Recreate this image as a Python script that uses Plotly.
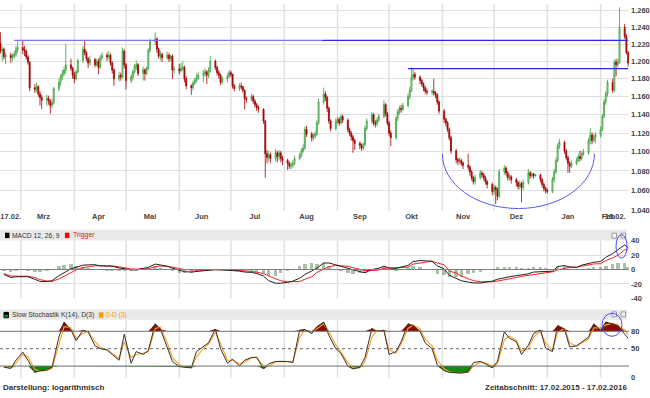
import numpy as np
import pandas as pd
import plotly.graph_objects as go

# ------------------------------------------------------------------ data
trade_dates = pd.bdate_range("2015-02-17", "2016-02-17")   # daily candles (Mon-Fri)

open_ = [
    1.221, 1.212, 1.214, 1.205,
    1.207, 1.204, 1.206, 1.208, 1.214,
    1.216, 1.213, 1.212, 1.205, 1.199,
    1.170, 1.168, 1.171, 1.163, 1.159,
    1.156, 1.158, 1.155, 1.150, 1.153,
    1.169, 1.176, 1.182, 1.186, 1.190,
    1.196, 1.192, 1.184, 1.180, 1.188,
    1.201, 1.214, 1.210, 1.203, 1.198,
    1.202, 1.196, 1.200, 1.193, 1.204,
    1.207, 1.205, 1.207, 1.198, 1.190,
    1.180, 1.184, 1.182, 1.212, 1.196,
    1.178, 1.182, 1.188, 1.194, 1.196,
    1.186, 1.190, 1.186, 1.192, 1.213,
    1.223, 1.226, 1.214, 1.206, 1.208,
    1.204, 1.207, 1.203, 1.206, 1.190,
    1.191, 1.189, 1.192, 1.193, 1.180,
    1.172, 1.170, 1.175, 1.178, 1.181,
    1.184, 1.186, 1.188, 1.184, 1.189,
    1.200, 1.193, 1.187, 1.184, 1.176,
    1.180, 1.183, 1.187, 1.185, 1.172,
    1.169, 1.172, 1.171, 1.167, 1.158,
    1.157, 1.160, 1.155, 1.151, 1.148,
    1.146, 1.133, 1.098, 1.094, 1.097,
    1.093, 1.099, 1.095, 1.099, 1.093,
    1.091, 1.088, 1.085, 1.086, 1.088,
    1.093, 1.096, 1.101, 1.104, 1.124,
    1.119, 1.115, 1.117, 1.119, 1.131,
    1.154, 1.163, 1.159, 1.147, 1.133,
    1.125, 1.133, 1.135, 1.131, 1.138,
    1.134, 1.124, 1.120, 1.116, 1.112,
    1.109, 1.107, 1.104, 1.108, 1.125,
    1.133, 1.140, 1.131, 1.130, 1.134,
    1.138, 1.151, 1.141, 1.131, 1.120,
    1.115, 1.136, 1.143, 1.147, 1.146,
    1.150, 1.160, 1.167, 1.181, 1.185,
    1.182, 1.178, 1.174, 1.170, 1.166,
    1.165, 1.166, 1.164, 1.162, 1.154,
    1.144, 1.135, 1.131, 1.124, 1.115,
    1.101, 1.092, 1.090, 1.091, 1.088,
    1.086, 1.084, 1.079, 1.073, 1.069,
    1.073, 1.078, 1.076, 1.073, 1.069,
    1.066, 1.059, 1.063, 1.061, 1.054,
    1.079, 1.083, 1.078, 1.073, 1.074,
    1.071, 1.068, 1.064, 1.067, 1.063,
    1.068, 1.078, 1.075, 1.077, 1.075,
    1.076, 1.071, 1.066, 1.062, 1.060,
    1.059, 1.071, 1.079, 1.091, 1.106,
    1.110, 1.101, 1.094, 1.088, 1.085,
    1.088, 1.091, 1.095, 1.093, 1.098,
    1.099, 1.112, 1.118, 1.112, 1.116,
    1.118, 1.124, 1.138, 1.154, 1.163,
    1.176, 1.167, 1.199, 1.196, 1.199,
    1.240, 1.229, 1.210,
]
high = [
    1.234, 1.218, 1.216, 1.210,
    1.210, 1.209, 1.212, 1.218, 1.224,
    1.225, 1.218, 1.214, 1.207, 1.200,
    1.174, 1.176, 1.173, 1.166, 1.162,
    1.162, 1.161, 1.157, 1.158, 1.171,
    1.180, 1.185, 1.190, 1.194, 1.220,
    1.203, 1.194, 1.188, 1.190, 1.203,
    1.218, 1.225, 1.212, 1.205, 1.206,
    1.204, 1.203, 1.203, 1.207, 1.210,
    1.210, 1.212, 1.209, 1.200, 1.192,
    1.188, 1.187, 1.216, 1.214, 1.198,
    1.185, 1.190, 1.197, 1.201, 1.198,
    1.194, 1.192, 1.194, 1.215, 1.226,
    1.234, 1.228, 1.216, 1.212, 1.210,
    1.211, 1.210, 1.208, 1.208, 1.194,
    1.197, 1.198, 1.200, 1.195, 1.183,
    1.174, 1.178, 1.181, 1.186, 1.188,
    1.190, 1.192, 1.190, 1.193, 1.206,
    1.202, 1.195, 1.190, 1.186, 1.183,
    1.186, 1.190, 1.189, 1.186, 1.174,
    1.175, 1.176, 1.172, 1.168, 1.160,
    1.163, 1.162, 1.157, 1.153, 1.150,
    1.147, 1.134, 1.102, 1.101, 1.099,
    1.103, 1.101, 1.102, 1.101, 1.096,
    1.093, 1.090, 1.089, 1.091, 1.096,
    1.099, 1.104, 1.108, 1.127, 1.128,
    1.121, 1.120, 1.122, 1.134, 1.158,
    1.170, 1.166, 1.161, 1.149, 1.135,
    1.136, 1.138, 1.137, 1.141, 1.140,
    1.136, 1.126, 1.122, 1.118, 1.114,
    1.111, 1.109, 1.110, 1.128, 1.136,
    1.143, 1.142, 1.134, 1.137, 1.141,
    1.156, 1.153, 1.143, 1.133, 1.123,
    1.138, 1.146, 1.150, 1.151, 1.153,
    1.163, 1.171, 1.193, 1.192, 1.188,
    1.184, 1.180, 1.176, 1.172, 1.169,
    1.168, 1.180, 1.166, 1.164, 1.156,
    1.146, 1.137, 1.133, 1.126, 1.117,
    1.103, 1.094, 1.094, 1.093, 1.090,
    1.098, 1.086, 1.081, 1.075, 1.076,
    1.081, 1.080, 1.078, 1.075, 1.071,
    1.068, 1.066, 1.065, 1.063, 1.082,
    1.086, 1.085, 1.080, 1.077, 1.076,
    1.073, 1.070, 1.070, 1.069, 1.071,
    1.082, 1.080, 1.079, 1.078, 1.077,
    1.077, 1.073, 1.068, 1.064, 1.062,
    1.074, 1.082, 1.094, 1.109, 1.114,
    1.112, 1.103, 1.096, 1.090, 1.091,
    1.094, 1.098, 1.101, 1.101, 1.103,
    1.115, 1.125, 1.121, 1.119, 1.121,
    1.127, 1.141, 1.157, 1.166, 1.179,
    1.180, 1.202, 1.203, 1.203, 1.264,
    1.244, 1.232, 1.212,
]
low = [
    1.209, 1.200, 1.202, 1.197,
    1.198, 1.200, 1.203, 1.205, 1.210,
    1.208, 1.206, 1.202, 1.196, 1.166,
    1.164, 1.165, 1.160, 1.150, 1.146,
    1.150, 1.151, 1.141, 1.147, 1.151,
    1.166, 1.172, 1.179, 1.183, 1.186,
    1.189, 1.180, 1.175, 1.178, 1.186,
    1.198, 1.207, 1.200, 1.192, 1.195,
    1.193, 1.194, 1.185, 1.191, 1.201,
    1.200, 1.202, 1.195, 1.186, 1.172,
    1.177, 1.178, 1.180, 1.192, 1.168,
    1.175, 1.178, 1.186, 1.190, 1.183,
    1.178, 1.178, 1.184, 1.190, 1.210,
    1.219, 1.210, 1.203, 1.201, 1.199,
    1.202, 1.199, 1.200, 1.180, 1.186,
    1.185, 1.187, 1.189, 1.176, 1.168,
    1.162, 1.167, 1.173, 1.176, 1.179,
    1.176, 1.182, 1.174, 1.181, 1.187,
    1.190, 1.184, 1.180, 1.173, 1.174,
    1.176, 1.181, 1.182, 1.169, 1.166,
    1.166, 1.168, 1.164, 1.146, 1.153,
    1.155, 1.152, 1.148, 1.144, 1.142,
    1.130, 1.073, 1.088, 1.090, 1.088,
    1.090, 1.089, 1.091, 1.089, 1.086,
    1.081, 1.082, 1.082, 1.083, 1.086,
    1.091, 1.094, 1.099, 1.102, 1.116,
    1.111, 1.112, 1.114, 1.117, 1.129,
    1.151, 1.155, 1.143, 1.130, 1.122,
    1.123, 1.130, 1.128, 1.129, 1.131,
    1.121, 1.117, 1.112, 1.099, 1.102,
    1.103, 1.101, 1.102, 1.106, 1.123,
    1.130, 1.128, 1.126, 1.127, 1.132,
    1.136, 1.138, 1.128, 1.117, 1.106,
    1.113, 1.133, 1.140, 1.142, 1.144,
    1.148, 1.157, 1.165, 1.178, 1.179,
    1.174, 1.171, 1.166, 1.163, 1.162,
    1.162, 1.161, 1.158, 1.151, 1.141,
    1.131, 1.127, 1.121, 1.112, 1.098,
    1.088, 1.086, 1.087, 1.085, 1.082,
    1.081, 1.075, 1.070, 1.066, 1.066,
    1.071, 1.073, 1.070, 1.066, 1.062,
    1.055, 1.056, 1.046, 1.050, 1.052,
    1.076, 1.075, 1.070, 1.070, 1.067,
    1.064, 1.061, 1.061, 1.048, 1.060,
    1.066, 1.072, 1.073, 1.072, 1.074,
    1.068, 1.063, 1.059, 1.057, 1.057,
    1.057, 1.068, 1.077, 1.089, 1.103,
    1.098, 1.091, 1.078, 1.078, 1.083,
    1.086, 1.089, 1.090, 1.091, 1.096,
    1.097, 1.108, 1.108, 1.110, 1.109,
    1.115, 1.122, 1.136, 1.151, 1.160,
    1.164, 1.165, 1.183, 1.193, 1.197,
    1.226, 1.208, 1.194,
]
close = [
    1.212, 1.214, 1.205, 1.207,
    1.204, 1.206, 1.208, 1.214, 1.216,
    1.213, 1.212, 1.205, 1.199, 1.170,
    1.168, 1.171, 1.163, 1.159, 1.156,
    1.158, 1.155, 1.150, 1.153, 1.169,
    1.176, 1.182, 1.186, 1.190, 1.196,
    1.192, 1.184, 1.180, 1.188, 1.201,
    1.214, 1.210, 1.203, 1.198, 1.202,
    1.196, 1.200, 1.193, 1.204, 1.207,
    1.205, 1.207, 1.198, 1.190, 1.180,
    1.184, 1.182, 1.212, 1.196, 1.178,
    1.182, 1.188, 1.194, 1.196, 1.186,
    1.190, 1.186, 1.192, 1.213, 1.223,
    1.226, 1.214, 1.206, 1.208, 1.204,
    1.207, 1.203, 1.206, 1.190, 1.191,
    1.189, 1.192, 1.193, 1.180, 1.172,
    1.170, 1.175, 1.178, 1.181, 1.184,
    1.186, 1.188, 1.184, 1.189, 1.200,
    1.193, 1.187, 1.184, 1.176, 1.180,
    1.183, 1.187, 1.185, 1.172, 1.169,
    1.172, 1.171, 1.167, 1.158, 1.157,
    1.160, 1.155, 1.151, 1.148, 1.146,
    1.133, 1.098, 1.094, 1.097, 1.093,
    1.099, 1.095, 1.099, 1.093, 1.091,
    1.088, 1.085, 1.086, 1.088, 1.093,
    1.096, 1.101, 1.104, 1.124, 1.119,
    1.115, 1.117, 1.119, 1.131, 1.154,
    1.163, 1.159, 1.147, 1.133, 1.125,
    1.133, 1.135, 1.131, 1.138, 1.134,
    1.124, 1.120, 1.116, 1.112, 1.109,
    1.107, 1.104, 1.108, 1.125, 1.133,
    1.140, 1.131, 1.130, 1.134, 1.138,
    1.151, 1.141, 1.131, 1.120, 1.115,
    1.136, 1.143, 1.147, 1.146, 1.150,
    1.160, 1.167, 1.181, 1.185, 1.182,
    1.178, 1.174, 1.170, 1.166, 1.165,
    1.166, 1.164, 1.162, 1.154, 1.144,
    1.135, 1.131, 1.124, 1.115, 1.101,
    1.092, 1.090, 1.091, 1.088, 1.086,
    1.084, 1.079, 1.073, 1.069, 1.073,
    1.078, 1.076, 1.073, 1.069, 1.066,
    1.059, 1.063, 1.061, 1.054, 1.079,
    1.083, 1.078, 1.073, 1.074, 1.071,
    1.068, 1.064, 1.067, 1.063, 1.068,
    1.078, 1.075, 1.077, 1.075, 1.076,
    1.071, 1.066, 1.062, 1.060, 1.059,
    1.071, 1.079, 1.091, 1.106, 1.110,
    1.101, 1.094, 1.088, 1.085, 1.088,
    1.091, 1.095, 1.093, 1.098, 1.099,
    1.112, 1.118, 1.112, 1.116, 1.118,
    1.124, 1.138, 1.154, 1.163, 1.176,
    1.167, 1.199, 1.196, 1.199, 1.240,
    1.229, 1.210, 1.198,
]

# indicator samples (Mondays and Thursdays)
ind_dates = sorted(
    list(pd.date_range("2015-02-19", "2016-02-15", freq="W-THU"))
    + list(pd.date_range("2015-02-23", "2016-02-15", freq="W-MON"))
) + [pd.Timestamp("2016-02-17")]

macd = [-7,
    -11, -10, -9.5, -10, -13.5, -16.5, -16.7, -15.4, -8.5, -4.5,
    1, 3, 6, 6.4, 6.6, 5, 4.5, 4.5, 2.2, 1,
    -0.4, -0.4, 1, 3, 7.5, 6.5, 4.5, 1.8, -1, -3,
    -3.5, -2.8, -1.5, -0.5, 0, -0.4, -0.5, -1.5, -2.2, -3.5,
    -4, -5.5, -9, -15.5, -18.9, -18.9, -17.8, -16, -12, -7,
    -2, 2, 9, 9, 6.5, 4.5, 2, -1, -3, -4.5,
    0, 1, 4.5, 2, 1.4, 3.5, 5.5, 11, 12.3, 12,
    11.4, 5, 1, -8, -12, -15.5, -17.3, -18.5, -18.6, -17.5,
    -16, -13.5, -11, -10, -8.5, -7.7, -6, -3.5, -3.2, -2.5,
    -2.3, 4, 5.5, 3.5, 3, 6, 8.2, 10, 11, 16.8,
    22, 27, 34, 30]
trigger = [-5.5,
    -9, -9.2, -9.2, -9.3, -11, -14, -15.8, -16.5, -13, -9,
    -4.5, -0.6, 2.8, 4, 5, 5.3, 5.2, 5, 3.6, 2.2,
    0.8, 0.4, 0.5, 0.9, 4, 4.8, 4.5, 3.1, 1.5, 0,
    -0.5, -1, -1.2, -0.6, -0.4, -0.4, -0.4, -1, -1.3, -2.2,
    -2.6, -3.8, -5.5, -9, -13, -15.5, -17, -17.2, -16.5, -13.5,
    -10, -4, 1, 4, 5.5, 5.2, 4.5, 2.5, 0, -1.4,
    -1.4, -1, 1.5, 2.3, 2.3, 2.5, 3.2, 7.5, 9, 10.5,
    11.4, 9, 6.5, -2, -5, -9, -13, -15.5, -16.8, -17.2,
    -17, -16, -14.5, -13.5, -11, -9.5, -8, -6.5, -5.9, -4.5,
    -3.2, -0.5, 1.8, 3, 3.2, 4.5, 5.9, 7.7, 8, 12.3,
    16, 19.5, 27, 28]
macd_hist = [-2,
    -2.5, -1, -0.5, -1, -3, -3, -1.5, 1.5, 6, 7,
    8, 5.5, 4.5, 3, 2, -0.5, -1, -0.8, -2, -1.8,
    -1.6, -1, 0.7, 3, 5, 2.5, 0, -2, -3.5, -4,
    -4, -2.5, -0.5, 0.2, 0.5, 0, -0.2, -0.7, -1.2, -1.8,
    -2, -2.5, -4.5, -8, -8, -4.5, -1, 1.5, 6, 8,
    10, 8.5, 10, 6, 1.5, -1, -3.5, -5, -4.5, -4,
    2, 2.8, 4, -0.5, -1.2, 1.2, 3, 5, 4.5, 2,
    0, -5, -7.5, -9, -9.5, -9, -6, -4, -2.5, -0.5,
    1.5, 3.5, 4.5, 4.5, 3.5, 2.5, 2.8, 4, 3.5, 2.5,
    1.2, 6, 5, 0.8, -0.3, 2, 3.2, 4, 4, 6,
    8.5, 10, 10, 4]
stoch_k = [18,
    16, 30, 44, 30, 9, 12, 13, 18, 70, 96,
    82, 64, 82, 79, 55, 50, 48, 40, 30, 75,
    25, 45, 40, 47, 93, 84, 52, 28, 19, 18,
    17, 45, 53, 60, 84, 50, 25, 32, 20, 30,
    35, 35, 15, 24, 28, 28, 28, 26, 82, 83,
    76, 88, 96, 73, 50, 42, 20, 15, 18, 35,
    85, 80, 82, 40, 45, 62, 93, 90, 80, 60,
    50, 22, 12, 9, 8, 8, 10, 26, 28, 24,
    17, 28, 79, 68, 62, 40, 56, 76, 82, 51,
    45, 90, 84, 53, 55, 62, 70, 93, 82, 96,
    93, 90, 75, 68]
stoch_d = [20,
    17, 25, 40, 36, 14, 11, 13, 16, 55, 88,
    86, 68, 76, 80, 62, 52, 48, 42, 33, 62,
    35, 40, 42, 45, 85, 87, 60, 35, 22, 18,
    17, 36, 50, 58, 78, 58, 30, 30, 24, 27,
    34, 35, 20, 20, 27, 28, 28, 27, 70, 82,
    78, 85, 93, 80, 56, 44, 26, 17, 17, 28,
    70, 82, 80, 48, 42, 58, 85, 91, 84, 66,
    55, 30, 15, 10, 8, 8, 9, 20, 27, 25,
    20, 24, 65, 72, 64, 46, 50, 70, 80, 60,
    47, 78, 85, 60, 54, 60, 67, 86, 86, 91,
    94, 91, 82, 74]

price_ticks = [1.040, 1.060, 1.080, 1.100, 1.120, 1.140, 1.160, 1.180, 1.200, 1.220, 1.240, 1.260]
x_tick_dates = ["2015-02-23", "2015-03-14", "2015-04-15", "2015-05-15", "2015-06-14",
                "2015-07-15", "2015-08-14", "2015-09-14", "2015-10-14", "2015-11-13",
                "2015-12-14", "2016-01-13", "2016-02-05 12:00", "2016-02-09 12:00"]
x_tick_text = ["17.02.", "Mrz", "Apr", "Mai", "Jun", "Jul", "Aug", "Sep", "Okt",
               "Nov", "Dez", "Jan", "Feb", "16.02."]
month_starts = pd.date_range("2015-03-01", "2016-02-01", freq="MS")

# drawn annotations (resistance lines and cup pattern)
resistance_hi = 1.2245
resistance_lo = 1.1915
res_hi_start, res_hi_mid, res_end = "2015-02-25", "2015-08-23", "2016-02-17"
res_lo_start = "2015-10-12"

assert len(open_) == len(high) == len(low) == len(close) == len(trade_dates)
assert len(macd) == len(trigger) == len(macd_hist) == len(stoch_k) == len(stoch_d) == len(ind_dates)

# ------------------------------------------------------------------ layout geometry
W, H = 650, 398
PW = 630  # plot width in px


def py(p):  # pixel row -> paper y
    return 1 - p / H


def px(p):  # pixel column -> paper x
    return p / PW


FONT = "Liberation Sans, Arial, sans-serif"
GRID = "#e0e0e0"

fig = go.Figure()

# ---- price candles
fig.add_trace(go.Candlestick(
    x=trade_dates, open=open_, high=high, low=low, close=close,
    increasing=dict(line=dict(color="#3a9e3a", width=0.8), fillcolor="#bfe3bf"),
    decreasing=dict(line=dict(color="#a30000", width=0.8), fillcolor="#a30000"),
    whiskerwidth=0, hoverinfo="skip", showlegend=False, xaxis="x", yaxis="y"))

# ---- MACD panel
fig.add_trace(go.Bar(x=ind_dates, y=macd_hist, width=2.0 * 86400000,
                     marker=dict(color="rgba(115,148,115,0.6)", line=dict(width=0)),
                     hoverinfo="skip", showlegend=False, xaxis="x2", yaxis="y2"))
fig.add_trace(go.Scatter(x=ind_dates, y=trigger, mode="lines",
                         line=dict(color="#ff2020", width=1), hoverinfo="skip",
                         showlegend=False, xaxis="x2", yaxis="y2"))
fig.add_trace(go.Scatter(x=ind_dates, y=macd, mode="lines",
                         line=dict(color="#222222", width=1), hoverinfo="skip",
                         showlegend=False, xaxis="x2", yaxis="y2"))

# ---- Stochastic panel (fills above 80 / below 20)
k_arr = np.array(stoch_k, dtype=float)
fig.add_trace(go.Scatter(x=ind_dates, y=[80] * len(ind_dates), mode="lines",
                         line=dict(width=0), hoverinfo="skip", showlegend=False,
                         xaxis="x3", yaxis="y3"))
fig.add_trace(go.Scatter(x=ind_dates, y=np.maximum(k_arr, 80), mode="lines",
                         line=dict(width=0), fill="tonexty", fillcolor="#8b0a00",
                         hoverinfo="skip", showlegend=False, xaxis="x3", yaxis="y3"))
fig.add_trace(go.Scatter(x=ind_dates, y=[20] * len(ind_dates), mode="lines",
                         line=dict(width=0), hoverinfo="skip", showlegend=False,
                         xaxis="x3", yaxis="y3"))
fig.add_trace(go.Scatter(x=ind_dates, y=np.minimum(k_arr, 20), mode="lines",
                         line=dict(width=0), fill="tonexty", fillcolor="#118a11",
                         hoverinfo="skip", showlegend=False, xaxis="x3", yaxis="y3"))
fig.add_trace(go.Scatter(x=ind_dates, y=stoch_d, mode="lines",
                         line=dict(color="#ffa42a", width=1.2), hoverinfo="skip",
                         showlegend=False, xaxis="x3", yaxis="y3"))
fig.add_trace(go.Scatter(x=ind_dates, y=stoch_k, mode="lines",
                         line=dict(color="#333333", width=1), hoverinfo="skip",
                         showlegend=False, xaxis="x3", yaxis="y3"))

tickfont = dict(family=FONT, size=7.5, color="#444444", weight="bold")
x_range = ["2015-02-16 18:00", "2016-02-17 12:00"]

fig.update_layout(
    width=W, height=H, autosize=False,
    margin=dict(l=0, r=W - PW, t=0, b=0, pad=0),
    paper_bgcolor="white", plot_bgcolor="white",
    font=dict(family=FONT, size=8, color="#333"),
    showlegend=False, boxgap=0.15, bargap=0, dragmode=False,
    xaxis=dict(domain=[0, 1], anchor="y", range=x_range, rangeslider=dict(visible=False),
               tickmode="array", tickvals=x_tick_dates, ticktext=x_tick_text, tickangle=0,
               showgrid=False, zeroline=False, showline=False, ticks="", tickfont=tickfont),
    xaxis2=dict(domain=[0, 1], anchor="y2", matches="x", showticklabels=False,
                showgrid=False, zeroline=False, ticks="", rangeslider=dict(visible=False)),
    xaxis3=dict(domain=[0, 1], anchor="y3", matches="x", showticklabels=False,
                showgrid=False, zeroline=False, ticks="", rangeslider=dict(visible=False)),
    yaxis=dict(domain=[py(211.5), 1], anchor="x", type="log", range=[0.016829, 0.103104],
               side="right", tickmode="array", tickvals=price_ticks,
               ticktext=[f"{v:.3f}" for v in price_ticks], showgrid=True, gridcolor=GRID,
               gridwidth=1, zeroline=False, ticks="", tickfont=tickfont,
               ticklabelstandoff=1),
    yaxis2=dict(domain=[py(301.3), py(242)], anchor="x2", range=[-40, 40], side="right",
                tickmode="array", tickvals=[-40, -20, 0, 20, 40],
                ticktext=["-40", "-20", "0", "20", "40"], showgrid=True, gridcolor=GRID,
                zeroline=True, zerolinecolor="#808080", zerolinewidth=1, ticks="",
                tickfont=tickfont, ticklabelstandoff=1),
    yaxis3=dict(domain=[py(382.3), py(323)], anchor="x3", range=[0, 100], side="right",
                tickmode="array", tickvals=[0, 50, 80], ticktext=["0", "50", "80"],
                showgrid=False, zeroline=False, ticks="", tickfont=tickfont,
                ticklabelstandoff=1),
)

shapes = []
# vertical month grid lines in all three panels
for yref in ["y domain", "y2 domain", "y3 domain"]:
    xr = {"y domain": "x", "y2 domain": "x2", "y3 domain": "x3"}[yref]
    for d in month_starts:
        shapes.append(dict(type="line", xref=xr, yref=yref, x0=d, x1=d, y0=0, y1=1,
                           line=dict(color=GRID, width=1.5), layer="below"))
# stochastic reference lines
shapes.append(dict(type="line", xref="paper", yref="y3", x0=0, x1=1, y0=80, y1=80,
                   line=dict(color="#707070", width=1)))
shapes.append(dict(type="line", xref="paper", yref="y3", x0=0, x1=1, y0=20, y1=20,
                   line=dict(color="#707070", width=1)))
shapes.append(dict(type="line", xref="paper", yref="y3", x0=0, x1=1, y0=50, y1=50,
                   line=dict(color="#666666", width=1, dash="dot")))
shapes.append(dict(type="line", xref="paper", yref="y2", x0=0, x1=1, y0=0, y1=0,
                   line=dict(color="#808080", width=1)))
# panel header strips
for top, bot in [(231, 242), (312.5, 323)]:
    shapes.append(dict(type="rect", xref="paper", yref="paper", x0=0, x1=px(628),
                       y0=py(bot), y1=py(top), fillcolor="#e9e9e9", line=dict(width=0),
                       layer="below"))
# header icons
for top in [234.5, 315]:
    for left in [613, 622]:
        shapes.append(dict(type="rect", xref="paper", yref="paper", x0=px(left),
                           x1=px(left + 4.5), y0=py(top + 5), y1=py(top),
                           fillcolor="#f6f6f6", line=dict(color="#9a9a9a", width=1)))
# legend squares
shapes.append(dict(type="rect", xref="paper", yref="paper", x0=px(5), x1=px(9.5),
                   y0=py(239.5), y1=py(234), fillcolor="#000000", line=dict(width=0)))
shapes.append(dict(type="rect", xref="paper", yref="paper", x0=px(65), x1=px(69.5),
                   y0=py(239.5), y1=py(234), fillcolor="#ff0000", line=dict(width=0)))
shapes.append(dict(type="rect", xref="paper", yref="paper", x0=px(4), x1=px(8.5),
                   y0=py(321), y1=py(315.5), fillcolor="#128a12",
                   line=dict(color="#000000", width=1)))
shapes.append(dict(type="rect", xref="paper", yref="paper", x0=px(4), x1=px(8.5),
                   y0=py(318), y1=py(315.5), fillcolor="#000000", line=dict(width=0)))
shapes.append(dict(type="rect", xref="paper", yref="paper", x0=px(99), x1=px(103.5),
                   y0=py(321), y1=py(315.5), fillcolor="#ff9a00", line=dict(width=0)))
# resistance lines
shapes.append(dict(type="line", xref="x", yref="y", x0=res_hi_start, x1=res_hi_mid,
                   y0=resistance_hi, y1=resistance_hi, line=dict(color="#7a7af0", width=1.2)))
shapes.append(dict(type="line", xref="x", yref="y", x0=res_hi_mid, x1=res_end,
                   y0=resistance_hi, y1=resistance_hi, line=dict(color="#2a2ae8", width=1.2)))
shapes.append(dict(type="line", xref="x", yref="y", x0=res_lo_start, x1=res_end,
                   y0=resistance_lo, y1=resistance_lo, line=dict(color="#2a2ae8", width=1.2)))
# cup (half ellipse) below the Nov-Jan bottom
arc = ("M 2015-10-31_23:00,1.098 C 2015-10-31_23:00,1.0664 2015-11-20_17:00,1.0417 "
       "2015-12-15_05:00,1.0417 C 2016-01-08_14:00,1.0417 2016-01-28_10:00,1.0664 "
       "2016-01-28_10:00,1.098")
shapes.append(dict(type="path", xref="x", yref="y", path=arc,
                   line=dict(color="#5a5af5", width=1)))
# ellipses in the indicator panels
shapes.append(dict(type="circle", xref="paper", yref="paper", x0=px(617), x1=px(628),
                   y0=py(260), y1=py(236), line=dict(color="#4a4af5", width=1)))
shapes.append(dict(type="circle", xref="paper", yref="paper", x0=px(603), x1=px(623),
                   y0=py(340), y1=py(316.5), line=dict(color="#4a4af5", width=1)))
fig.update_layout(shapes=shapes)

ann = []
hdr = dict(family=FONT, size=6.7, color="#333333")
ann.append(dict(xref="paper", yref="paper", x=px(10), y=py(236.8), xanchor="left",
                yanchor="middle", text="MACD 12, 26, 9", showarrow=False, font=hdr))
ann.append(dict(xref="paper", yref="paper", x=px(71), y=py(236.8), xanchor="left",
                yanchor="middle", text="Trigger", showarrow=False,
                font=dict(family=FONT, size=6.9, color="#e81010")))
ann.append(dict(xref="paper", yref="paper", x=px(10), y=py(318.3), xanchor="left",
                yanchor="middle", text="Slow Stochastik K(14), D(3)", showarrow=False,
                font=hdr))
ann.append(dict(xref="paper", yref="paper", x=px(104), y=py(318.3), xanchor="left",
                yanchor="middle", text="0-D (3)", showarrow=False,
                font=dict(family=FONT, size=6.7, color="#ff9a00")))
foot = dict(family=FONT, size=8, color="#333333", weight="bold")
ann.append(dict(xref="paper", yref="paper", x=px(1), y=py(392), xanchor="left",
                yanchor="middle", text="Darstellung: logarithmisch", showarrow=False,
                font=foot))
ann.append(dict(xref="paper", yref="paper", x=px(629.5), y=py(392), xanchor="right",
                yanchor="middle", text="Zeitabschnitt: 17.02.2015 - 17.02.2016",
                showarrow=False, font=foot))
fig.update_layout(annotations=ann)

fig.write_html("out.html", config={"displayModeBar": False, "staticPlot": False},
               post_script="document.body.style.margin='0';")
